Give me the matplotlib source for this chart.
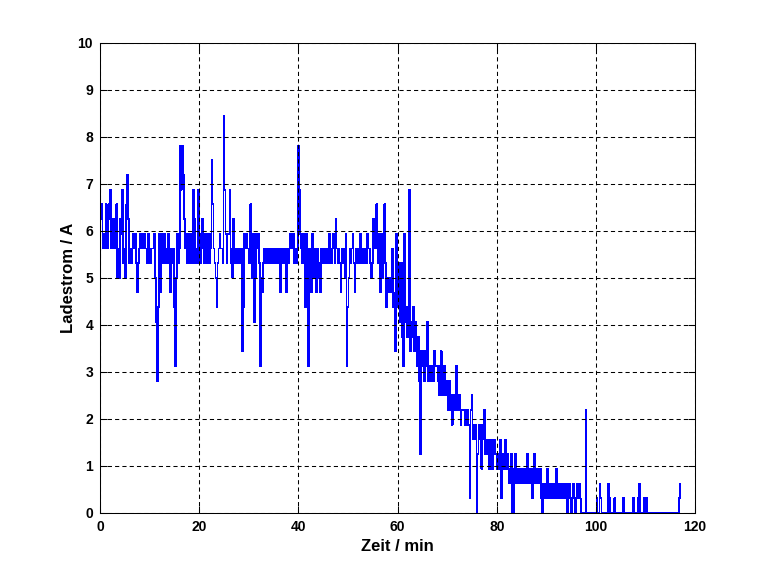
import numpy as np
import matplotlib
matplotlib.use("Agg")
import matplotlib.pyplot as plt

# Charging current, read off the reference as ADC levels (1 level = 0.3125 A),
# one sample every 0.2 min.
SAMPLE_MIN = 0.2
STEP_A = 0.3125

levels_00_20 = [
    18, 20, 21, 18, 19, 18, 21, 20, 18, 21, 20, 22, 18, 20, 19, 18, 20, 21, 16, 18, 16, 20, 19, 22, 17,
    18, 16, 21, 23, 20, 17, 18, 17, 18, 19, 18, 19, 17, 15, 17, 18, 19, 18, 19, 18, 19, 18, 18, 17, 19,
    17, 17, 18, 18, 18, 19, 16, 13, 9, 14, 19, 15, 19, 18, 17, 19, 17, 18, 17, 19, 18, 15, 17, 18, 18,
    14, 10, 16, 19, 17, 18, 25, 22, 25, 23, 20, 18, 19, 17, 19, 18, 17, 19, 17, 22, 20, 17, 18, 17, 22,
]
levels_20_40 = [
    19, 17, 18, 20, 19, 17, 19, 17, 17, 19, 17, 19, 18, 24, 21, 18, 17, 16, 14, 17, 18, 19, 18, 18, 17,
    27, 22, 19, 17, 19, 19, 22, 18, 17, 16, 20, 18, 17, 18, 17, 18, 17, 18, 18, 11, 14, 19, 18, 19, 18,
    18, 17, 21, 17, 16, 19, 13, 16, 19, 18, 19, 17, 10, 16, 15, 17, 18, 17, 18, 17, 18, 17, 18, 17, 18,
    17, 18, 17, 18, 17, 18, 17, 15, 18, 17, 18, 17, 18, 15, 18, 17, 18, 19, 18, 18, 19, 17, 18, 17, 18,
]
levels_40_60 = [
    25, 22, 19, 18, 17, 19, 18, 14, 19, 17, 10, 18, 17, 15, 19, 16, 18, 16, 15, 18, 17, 16, 15, 18, 17,
    18, 17, 18, 17, 18, 17, 19, 18, 17, 18, 19, 18, 17, 20, 18, 17, 18, 17, 15, 18, 17, 18, 16, 19, 10,
    14, 16, 18, 17, 18, 19, 17, 15, 17, 18, 17, 18, 17, 19, 18, 17, 18, 17, 18, 17, 19, 18, 18, 17, 16,
    17, 20, 18, 19, 21, 18, 17, 19, 15, 19, 16, 19, 21, 17, 14, 16, 15, 16, 15, 16, 18, 14, 15, 11, 19,
]
levels_60_80 = [
    14, 17, 15, 13, 17, 12, 10, 19, 14, 13, 12, 14, 22, 11, 13, 12, 14, 11, 13, 11, 10, 12, 9, 4, 11,
    10, 11, 9, 11, 10, 13, 9, 10, 9, 10, 10, 9, 11, 10, 10, 10, 9, 8, 10, 11, 8, 9, 10, 8, 9,
    9, 7, 9, 7, 8, 6, 8, 7, 8, 10, 7, 8, 7, 8, 6, 7, 7, 7, 6, 7, 6, 7, 6, 1, 7,
    8, 5, 6, 5, 6, 0, 4, 6, 5, 6, 3, 6, 5, 7, 4, 5, 4, 5, 3, 4, 5, 3, 4, 5, 4,
]
levels_80_100 = [
    4, 3, 4, 3, 5, 1, 4, 3, 4, 5, 3, 4, 3, 2, 3, 4, 0, 0, 3, 4, 2, 3, 2, 3, 2,
    3, 2, 3, 2, 3, 2, 4, 2, 3, 2, 3, 1, 2, 4, 2, 3, 2, 3, 2, 3, 1, 0, 2, 1, 2,
    1, 3, 2, 1, 2, 1, 2, 1, 2, 1, 3, 1, 2, 1, 2, 1, 2, 1, 2, 1, 2, 0, 1, 2, 1,
    0, 1, 2, 1, 0, 1, 2, 1, 2, 1, 0, 0, 0, 0, 0, 7, 0, 0, 0, 0, 0, 0, 0, 0, 0,
]
levels_100_end = [
    0, 1, 0, 0, 2, 1, 0, 0, 0, 0, 0, 0, 0, 2, 1, 0, 0, 0, 0, 1, 0, 0, 0, 0, 0,
    0, 0, 0, 1, 0, 0, 0, 0, 0, 0, 0, 0, 0, 1, 0, 0, 0, 0, 1, 2, 0, 0, 0, 0, 1,
    0, 1, 0, 0, 0, 0, 0, 0, 0, 0, 0, 0, 0, 0, 0, 0, 0, 0, 0, 0, 0, 0, 0, 0, 0,
    0, 0, 0, 0, 0, 0, 0, 0, 0, 1, 2,
]

x_ticks = [0, 20, 40, 60, 80, 100, 120]
y_ticks = [0, 1, 2, 3, 4, 5, 6, 7, 8, 9, 10]
x_label = "Zeit / min"
y_label = "Ladestrom / A"

levels = np.array(levels_00_20 + levels_20_40 + levels_40_60 +
                  levels_60_80 + levels_80_100 + levels_100_end, dtype=float)
time_min = np.arange(len(levels)) * SAMPLE_MIN
current_a = levels * STEP_A

plt.rcParams["font.family"] = ["Liberation Sans", "DejaVu Sans"]

fig = plt.figure(figsize=(7.69, 5.77), dpi=100)
fig.patch.set_facecolor("white")
ax = fig.add_axes([0.130, 0.111, 0.774, 0.815])

ax.plot(time_min, current_a, color="#0000ff", linewidth=0.6,
        drawstyle="steps-mid", antialiased=False)

ax.set_xlim(0, 120)
ax.set_ylim(0, 10)
ax.set_xticks(x_ticks)
ax.set_yticks(y_ticks)
ax.set_axisbelow(False)
ax.grid(True, color="black", linestyle=(0, (4, 3)), linewidth=0.75)

ax.tick_params(direction="in", top=True, right=True, length=5, width=0.75,
               labelsize=10, pad=5)
for lbl in ax.get_xticklabels() + ax.get_yticklabels():
    lbl.set_fontweight("bold")
for sp in ax.spines.values():
    sp.set_linewidth(0.75)

ax.set_xlabel(x_label, fontsize=12, fontweight="bold", labelpad=4)
ax.set_ylabel(y_label, fontsize=12, fontweight="bold", labelpad=1)

fig.savefig("out.png", dpi=100, facecolor="white")
